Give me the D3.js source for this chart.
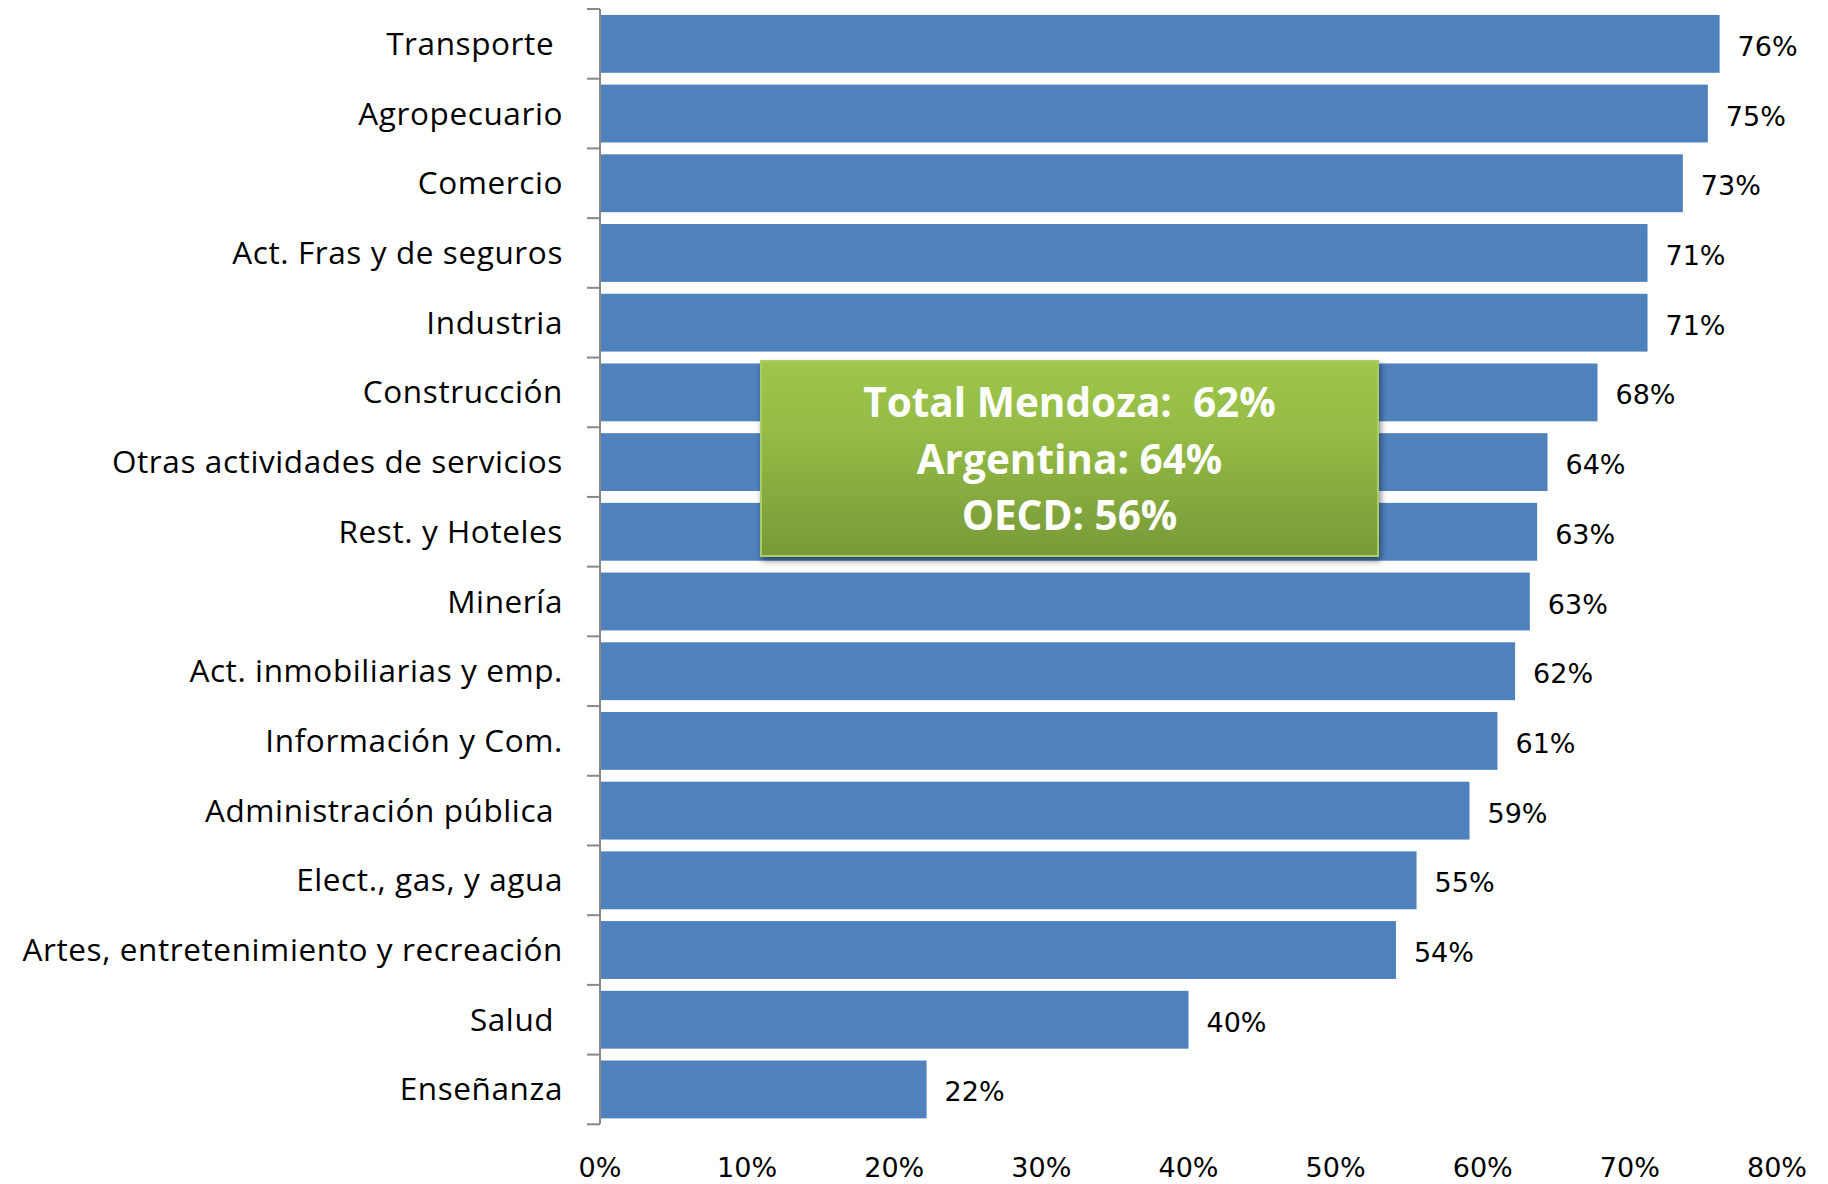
<!DOCTYPE html>
<html>
<head>
<meta charset="utf-8">
<script src="https://cdn.jsdelivr.net/npm/d3@7"></script>
<style>
  html, body { margin: 0; padding: 0; background: #fff; }
  svg { display: block; }
</style>
</head>
<body>
<div id="chart"></div>
<script>
const categories = [
  'Transporte ', 'Agropecuario', 'Comercio', 'Act. Fras y de seguros', 'Industria',
  'Construcción', 'Otras actividades de servicios', 'Rest. y Hoteles', 'Minería',
  'Act. inmobiliarias y emp.', 'Información y Com.', 'Administración pública ',
  'Elect., gas, y agua', 'Artes, entretenimiento y recreación', 'Salud ', 'Enseñanza'
];
const values = [76.1, 75.3, 73.6, 71.2, 71.2, 67.8, 64.4, 63.7, 63.2, 62.2, 61.0, 59.1, 55.5, 54.1, 40.0, 22.2];
const valueLabels = ['76%', '75%', '73%', '71%', '71%', '68%', '64%', '63%', '63%', '62%', '61%', '59%', '55%', '54%', '40%', '22%'];
const xTicks = [0, 10, 20, 30, 40, 50, 60, 70, 80];
const boxLines = ['Total Mendoza:  62%', 'Argentina: 64%', 'OECD: 56%'];

const width = 1828, height = 1184;
const svg = d3.select('#chart').append('svg').attr('width', width).attr('height', height);

const x = d3.scaleLinear().domain([0, 80]).range([600, 1777]);
const y = d3.scaleBand().domain(categories).range([9, 1124.3]).paddingInner(0.17).paddingOuter(0.085);

// bars
svg.append('g').selectAll('rect').data(categories).enter().append('rect')
  .attr('x', x(0) + 1)
  .attr('y', d => y(d))
  .attr('width', (d, i) => x(values[i]) - x(0) - 1)
  .attr('height', y.bandwidth())
  .attr('fill', '#4f81bd');

// value labels
svg.append('g').selectAll('text').data(categories).enter().append('text')
  .attr('x', (d, i) => x(values[i]) + 18)
  .attr('y', d => y(d) + y.bandwidth() / 2 + 12)
  .style('font-family', '"DejaVu Sans", Verdana, sans-serif')
  .style('font-size', '27px')
  .attr('fill', '#000')
  .text((d, i) => valueLabels[i]);

// vertical axis, ticks sit on band boundaries
const axisG = svg.append('g');
const step = y.step();
const boundaries = d3.range(categories.length + 1).map(i => 9 + i * step);
axisG.append('line')
  .attr('x1', x(0)).attr('x2', x(0))
  .attr('y1', boundaries[0]).attr('y2', boundaries[boundaries.length - 1])
  .attr('stroke', '#888').attr('stroke-width', 2);
axisG.selectAll('line.tick').data(boundaries).enter().append('line')
  .attr('class', 'tick')
  .attr('x1', x(0) - 13).attr('x2', x(0))
  .attr('y1', d => d).attr('y2', d => d)
  .attr('stroke', '#888').attr('stroke-width', 2);

// category labels
axisG.selectAll('text').data(categories).enter().append('text')
  .attr('x', 563)
  .attr('y', d => y(d) + y.bandwidth() / 2 + 11)
  .attr('text-anchor', 'end')
  .style('white-space', 'pre')
  .style('font-family', '"Open Sans", Lato, sans-serif')
  .style('font-size', '31.5px')
  .style('letter-spacing', '0.6px')
  .attr('fill', '#000')
  .text(d => d);

// x tick labels
svg.append('g').selectAll('text').data(xTicks).enter().append('text')
  .attr('x', d => x(d))
  .attr('y', 1177)
  .attr('text-anchor', 'middle')
  .style('font-family', '"DejaVu Sans", Verdana, sans-serif')
  .style('font-size', '27px')
  .attr('fill', '#000')
  .text(d => d + '%');

// green summary box
const defs = svg.append('defs');
const grad = defs.append('linearGradient').attr('id', 'greenGrad')
  .attr('x1', 0).attr('y1', 0).attr('x2', 0).attr('y2', 1);
grad.append('stop').attr('offset', '0%').attr('stop-color', '#9dc64a');
grad.append('stop').attr('offset', '35%').attr('stop-color', '#95bc45');
grad.append('stop').attr('offset', '100%').attr('stop-color', '#779a38');
const shadow = defs.append('filter').attr('id', 'shadow')
  .attr('x', '-10%').attr('y', '-10%').attr('width', '120%').attr('height', '130%');
shadow.append('feDropShadow').attr('dx', 2).attr('dy', 4).attr('stdDeviation', 3)
  .attr('flood-color', '#000').attr('flood-opacity', 0.45);

const box = { x0: 761, y0: 361, x1: 1378, y1: 556 };
svg.append('rect')
  .attr('x', box.x0).attr('y', box.y0)
  .attr('width', box.x1 - box.x0).attr('height', box.y1 - box.y0)
  .attr('fill', 'url(#greenGrad)')
  .attr('stroke', '#a9cc66').attr('stroke-width', 2)
  .attr('filter', 'url(#shadow)');

svg.append('g').selectAll('text').data(boxLines).enter().append('text')
  .attr('x', (box.x0 + box.x1) / 2)
  .attr('y', (d, i) => 417 + i * 56.7)
  .attr('text-anchor', 'middle')
  .style('white-space', 'pre')
  .style('font-family', '"Open Sans", Lato, sans-serif')
  .style('font-weight', 'bold')
  .style('font-size', '40.5px')
  .attr('fill', '#fff')
  .text(d => d);
</script>
</body>
</html>
